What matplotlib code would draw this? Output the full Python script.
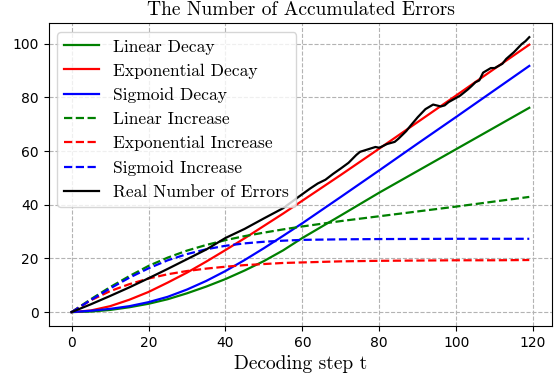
import numpy as np
import matplotlib.pyplot as plt

# pasos de decodificacion para las curvas suaves
pasos = [0, 5, 10, 15, 20, 25, 30, 35, 40, 45, 50, 55, 60, 70, 80, 90, 100, 110, 119]

linear_decay = [0, 0.2, 0.8, 1.8, 3.1, 4.8, 7.0, 9.5, 12.3, 15.5, 19.0, 23.0, 27.6,
                36.0, 44.5, 52.6, 60.7, 68.8, 76.1]
exp_decay = [0, 0.6, 2.2, 4.6, 7.5, 11.0, 14.7, 18.8, 23.1, 27.5, 32.1, 36.7, 41.5,
             51.1, 60.9, 70.8, 80.7, 90.7, 99.6]
sigmoid_decay = [0, 0.5, 1.2, 2.2, 3.7, 5.7, 8.4, 11.6, 15.3, 19.4, 23.8, 28.4, 33.1,
                 42.9, 52.8, 62.8, 72.7, 82.7, 91.7]
linear_inc = [0, 4.8, 9.3, 13.4, 17.2, 20.3, 22.9, 25.0, 26.8, 28.3, 29.6, 30.8, 31.9,
              33.9, 35.7, 37.5, 39.3, 41.2, 42.9]
exp_inc = [0, 4.4, 7.8, 10.4, 12.5, 14.1, 15.3, 16.2, 16.9, 17.5, 17.9, 18.3, 18.5,
           18.9, 19.1, 19.2, 19.3, 19.3, 19.4]
sigmoid_inc = [0, 4.5, 8.8, 12.8, 16.3, 19.3, 21.6, 23.4, 24.7, 25.6, 26.2, 26.6, 26.9,
               27.1, 27.2, 27.25, 27.3, 27.3, 27.3]

# numero real de errores
pasos_real = [0, 5, 10, 15, 20, 25, 30, 35, 40, 45, 50, 55, 59, 62, 64, 66, 68, 70, 72,
              74, 75, 77, 79, 80, 82, 84, 85, 87, 88, 90, 92, 94, 96, 97, 98, 100, 101,
              103, 104, 105, 106, 107, 109, 110, 112, 113, 115, 117, 118, 119]
errores_real = [0, 2.9, 6.0, 9.2, 12.6, 16.1, 19.7, 23.3, 27.6, 31.0, 34.9, 38.7, 42.9,
                46.0, 47.9, 49.3, 51.5, 53.5, 55.6, 58.5, 59.7, 60.6, 61.5, 61.2, 62.6,
                63.4, 64.6, 67.4, 69.2, 72.6, 75.6, 77.3, 76.6, 77.0, 78.2, 79.8, 80.6,
                82.9, 84.2, 85.6, 86.3, 89.2, 90.9, 90.9, 92.5, 94.3, 96.8, 99.8, 100.9,
                102.4]

serif = 'cmr10'

fig = plt.figure(figsize=(5.6, 3.78), dpi=100)
ax = fig.add_subplot(111)
fig.subplots_adjust(left=0.087, right=0.986, top=0.938, bottom=0.138)

ax.plot(pasos, linear_decay, color='green', lw=1.6, label='Linear Decay')
ax.plot(pasos, exp_decay, color='red', lw=1.6, label='Exponential Decay')
ax.plot(pasos, sigmoid_decay, color='blue', lw=1.6, label='Sigmoid Decay')
ax.plot(pasos, linear_inc, color='green', lw=1.6, ls='--', label='Linear Increase')
ax.plot(pasos, exp_inc, color='red', lw=1.6, ls='--', label='Exponential Increase')
ax.plot(pasos, sigmoid_inc, color='blue', lw=1.6, ls='--', label='Sigmoid Increase')
ax.plot(pasos_real, errores_real, color='black', lw=1.6, label='Real Number of Errors')

ax.grid(True, linestyle='--', color='0.7')
ax.set_xticks(np.arange(0, 121, 20))
ax.set_yticks(np.arange(0, 101, 20))
ax.tick_params(labelsize=10)

ax.set_title('The Number of Accumulated Errors', fontfamily=serif, fontsize=14)
ax.set_xlabel('Decoding step t', fontfamily=serif, fontsize=14)
ax.legend(loc='upper left', prop={'family': serif, 'size': 12.6})

plt.savefig('out.png', dpi=100)
